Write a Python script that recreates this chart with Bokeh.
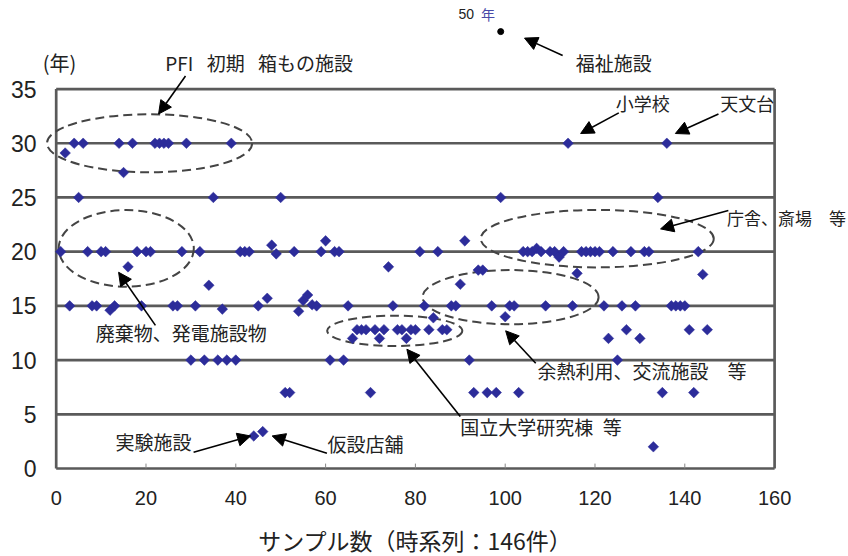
import math
from bokeh.plotting import figure
from bokeh.models import FixedTicker, Arrow, NormalHead, Label, Range1d
from bokeh.embed import file_html
from bokeh.resources import INLINE
from bokeh.core.properties import value

# ---------------- data ----------------
sample_no = list(range(1, 146))
years = [20, 29.1, 15, 30, 25, 30, 20, 15, 15, 20,
         20, 14.6, 15, 30, 27.3, 18.6, 30, 20, 15, 20,
         20, 30, 30, 30, 30, 15, 15, 20, 30, 10,
         15, 20, 10, 16.9, 25, 10, 14.7, 10, 30, 10,
         20, 20, 20, 3.0, 15, 3.4, 15.7, 20.6, 19.8, 25,
         7, 7, 20, 14.5, 15.5, 16.0, 15.1, 15, 20, 21,
         10, 20, 20, 10, 15, 12, 12.8, 12.8, 12.8, 7,
         12.8, 12, 12.8, 18.6, 15, 12.8, 12.8, 12, 12.8, 12.8,
         20, 15, 12.8, 13.9, 20, 12.8, 12.8, 15, 15, 17.0,
         21.0, 10, 7, 18.3, 18.3, 7, 15, 7, 25, 14,
         15, 15, 7, 20, 20, 20, 20.3, 20, 15, 20,
         20, 19.5, 20, 30, 15, 18, 20, 20, 20, 20,
         20, 15, 12, 20, 10, 15, 12.8, 20, 15, 12,
         20, 20, 2, 25, 7, 30, 15, 15, 15, 15,
         12.8, 7, 20, 17.9, 12.8]
outlier_sample = [99]
outlier_years = [50]          # drawn above the 35-year scale (axis break)
year_ticks = [0, 5, 10, 15, 20, 25, 30, 35]
sample_ticks = [0, 20, 40, 60, 80, 100, 120, 140, 160]
x_title = "サンプル数（時系列：146件）"

# ---------------- styles / layout ----------------
CJK = "Noto Sans CJK JP"
NUM = "Liberation Sans"
TXT = "#222222"
GRID = "#5a5a5a"
BLUE = "#2c2c9a"
OUTLIER_POS = 40.3            # display height of the off-scale point
TICKLABEL_Y = -2.68           # row of the sample-number labels
TITLE_Y = -6.6

p = figure(width=848, height=556, output_backend="svg", toolbar_location=None,
           x_range=Range1d(-3.05, 176.46), y_range=Range1d(-8.12, 43.17),
           min_border_left=42, min_border_right=0, min_border_top=0,
           min_border_bottom=0)
p.outline_line_color = None
p.grid.visible = False
p.xaxis.visible = False

# y axis (real axis, labels only)
p.yaxis.ticker = FixedTicker(ticks=year_ticks)
p.yaxis.axis_line_color = None
p.yaxis.major_tick_line_color = None
p.yaxis.minor_tick_line_color = None
p.yaxis.major_label_standoff = 0
p.yaxis.major_label_text_font = NUM
p.yaxis.major_label_text_font_size = "23px"
p.yaxis.major_label_text_color = TXT

# horizontal lines (incl. bottom border) and side borders
n = len(year_ticks)
p.segment(x0=[sample_ticks[0]] * n, y0=year_ticks, x1=[sample_ticks[-1]] * n, y1=year_ticks,
          line_color=GRID, line_width=2.7)
p.segment(x0=[sample_ticks[0], sample_ticks[-1]], y0=[year_ticks[0]] * 2,
          x1=[sample_ticks[0], sample_ticks[-1]], y1=[year_ticks[-1]] * 2,
          line_color=GRID, line_width=2.7)
# small inside ticks on the sample axis
p.segment(x0=sample_ticks[1:-1], y0=[0] * (len(sample_ticks) - 2),
          x1=sample_ticks[1:-1], y1=[0.45] * (len(sample_ticks) - 2),
          line_color="#888888", line_width=1)
# sample-axis tick labels and title
p.text(x=sample_ticks, y=[TICKLABEL_Y] * len(sample_ticks), text=[str(t) for t in sample_ticks],
       text_font=value(NUM), text_font_size="20px", text_color=TXT,
       text_align="center", text_baseline="middle")
p.add_layout(Label(x=80, y=TITLE_Y, text=x_title, text_font=CJK, text_font_size="23px",
                   text_color=TXT, text_align="center", text_baseline="middle"))

# dashed ellipses (group highlights)
ell = dict(fill_color=None, line_color="#444444", line_width=2, line_dash="9 5")
p.ellipse(x=[20.8], y=[30.0], width=[45.7], height=[5.35], **ell)
p.ellipse(x=[15.6], y=[20.3], width=[30.1], height=[7.07], **ell)
p.ellipse(x=[75.4], y=[12.7], width=[30.1], height=[2.8], **ell)
p.ellipse(x=[101.2], y=[15.8], width=[39.2], height=[5.0], **ell)
p.ellipse(x=[120.5], y=[21.2], width=[51.9], height=[5.3], **ell)

# points
p.scatter(sample_no, years, marker="square", angle=math.pi / 4, size=7.5,
          fill_color=BLUE, line_color=BLUE, line_width=0.5)
p.scatter(outlier_sample, [OUTLIER_POS], marker="circle", size=6,
          fill_color="black", line_color="black")

# arrows
arrows = [
    ((28.8, 36.2), (22.8, 32.7)),   # PFI
    ((112.8, 38.1), (104.3, 39.7)), # 福祉施設
    ((125.3, 32.8), (116.8, 30.9)), # 小学校
    ((147.5, 32.7), (137.9, 30.9)), # 天文台
    ((149.7, 23.8), (134.6, 22.1)), # 庁舎
    ((106.8, 9.7), (100.1, 12.7)),  # 余熱利用
    ((90.0, 4.8), (78.1, 11.0)),    # 国立大学
    ((22.1, 13.2), (13.9, 18.1)),   # 廃棄物
    ((30.6, 1.5), (43.3, 3.0)),     # 実験施設
    ((60.3, 1.4), (48.1, 3.0)),     # 仮設店舗
]
for (xs, ys), (xe, ye) in arrows:
    p.add_layout(Arrow(end=NormalHead(size=13, fill_color="black", line_color="black"),
                       x_start=xs, y_start=ys, x_end=xe, y_end=ye,
                       line_color="black", line_width=1.6))

# labels
def lab(x, y, text, size="19px", color=TXT, font=CJK):
    p.add_layout(Label(x=x, y=y, text=text, text_font=font, text_font_size=size,
                       text_color=color, text_baseline="middle", text_align="left"))

lab(-3.0, 37.45, "(年)", size="20px")
lab(24.3, 37.45, "PFI\u2002\u2009初期\u2002\u2009箱もの施設")
lab(115.7, 37.45, "福祉施設")
lab(89.6, 41.9, "50", size="14px", font=NUM)
lab(94.6, 41.9, "年", size="14px", color="#4a4aa8")
lab(124.6, 33.7, "小学校", size="18px")
lab(147.9, 33.7, "天文台", size="18px")
lab(149.4, 23.15, "庁舎、斎場\u2002\u2002等", size="17px")
lab(8.8, 12.55, "廃棄物、発電施設物")
lab(13.2, 2.5, "実験施設")
lab(60.4, 2.3, "仮設店舗")
lab(90.0, 3.9, "国立大学研究棟\u2002等")
lab(107.2, 9.0, "余熱利用、交流施設\u3000等")

open("out.html", "w").write(file_html(p, INLINE))
